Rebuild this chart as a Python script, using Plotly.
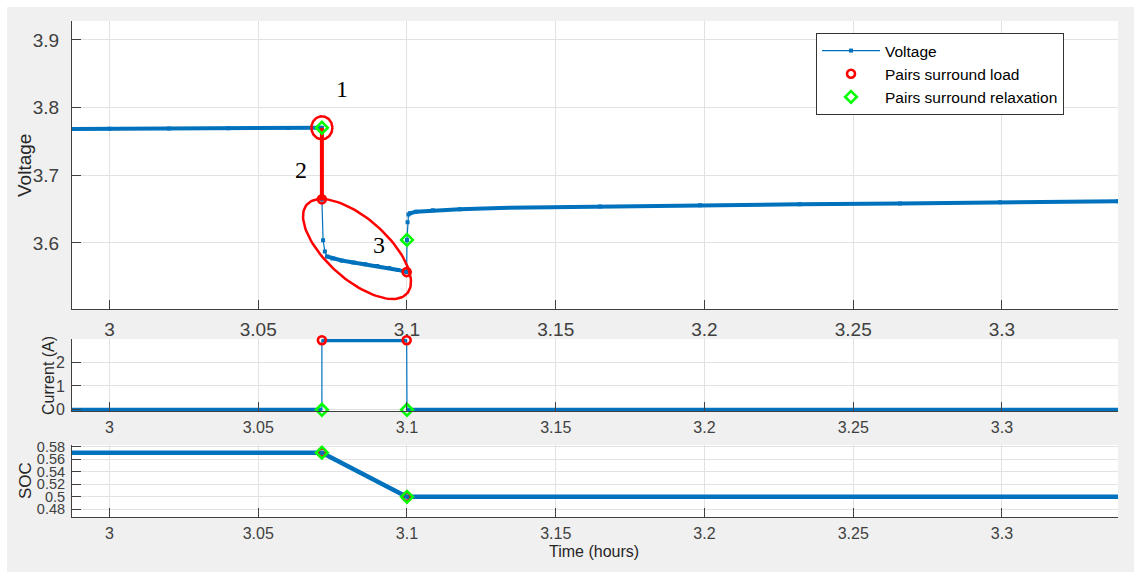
import math
import plotly.graph_objects as go

BLUE = "#0072BD"
RED = "#FF0000"
GREEN = "#00FF00"
AXIS = "#404040"
GRID = "#e2e2e2"
TXT = "#262626"
FONT = "Liberation Sans, Arial, sans-serif"
SERIF = "Liberation Serif, Times New Roman, serif"

# ---------------- data ----------------
# rest period before the current pulse
rest_t = [2.985, 3.000, 3.020, 3.040, 3.060, 3.0714]
rest_v = [3.7685, 3.7688, 3.7693, 3.7697, 3.7700, 3.7702]
# sparse samples across the load step
step_t = [3.0714, 3.0718, 3.0724]
step_v = [3.6645, 3.6040, 3.5875]
# under load
load_t = [3.0731, 3.0750, 3.0780, 3.0820, 3.0860, 3.0900, 3.0940, 3.0970, 3.0999]
load_v = [3.5800, 3.5772, 3.5742, 3.5712, 3.5686, 3.5660, 3.5630, 3.5602, 3.5570]
# relaxation after the pulse
relax_t = [3.1000, 3.1002, 3.1005, 3.1010, 3.1030, 3.1087, 3.1178, 3.1313,
           3.1649, 3.1985, 3.2320, 3.2657, 3.2993, 3.3390]
relax_v = [3.6045, 3.6305, 3.6419, 3.6440, 3.6462, 3.6482, 3.6500, 3.6518,
           3.6540, 3.6558, 3.6572, 3.6585, 3.6600, 3.6615]

# current (A)
cur_t = [2.985, 3.0714, 3.0714, 3.0999, 3.1000, 3.339]
cur_a = [0.0, 0.0, 2.92, 2.92, 0.0, 0.0]

# state of charge
soc_t = [2.985, 3.0714, 3.0999, 3.339]
soc_v = [0.5705, 0.5705, 0.5000, 0.5000]

time_ticks = [3.0, 3.05, 3.1, 3.15, 3.2, 3.25, 3.3]
time_text = ["3", "3.05", "3.1", "3.15", "3.2", "3.25", "3.3"]
v_ticks = [3.6, 3.7, 3.8, 3.9]
v_text = ["3.6", "3.7", "3.8", "3.9"]
i_ticks = [0, 1, 2]
i_text = ["0", "1", "2"]
soc_ticks = [0.48, 0.50, 0.52, 0.54, 0.56, 0.58]
soc_text = ["0.48", "0.5", "0.52", "0.54", "0.56", "0.58"]

# pairs of samples around the load and the relaxation
load_pair_t = [step_t[0], load_t[-1]]
load_pair_v = [step_v[0], load_v[-1]]
relax_pair_t = [rest_t[-1], relax_t[0]]
relax_pair_v = [rest_v[-1], relax_v[0]]
load_pair_i = [cur_a[2], cur_a[3]]
relax_pair_i = [cur_a[1], cur_a[4]]
load_pair_soc = [soc_v[1], soc_v[2]]
relax_pair_soc = [soc_v[1], soc_v[2]]

# ---------------- layout geometry ----------------
W, H = 1134, 572
ML, MR, MT, MB = 72, 16, 21, 55
PW, PH = W - ML - MR, H - MT - MB
T_RANGE = [2.9874, 3.339]
V_RANGE = [3.502, 3.928]
I_RANGE = [-0.05, 2.97]
S_RANGE = [0.4678, 0.5827]


def px_x(p):
    return (p - ML) / PW


def px_y(p):
    return (H - MB - p) / PH


TOP_PX = (21, 309.3)
MID_PX = (339, 411)
BOT_PX = (445, 517)
dom_top = [px_y(TOP_PX[1]), px_y(TOP_PX[0])]
dom_mid = [px_y(MID_PX[1]), px_y(MID_PX[0])]
dom_bot = [px_y(BOT_PX[1]), px_y(BOT_PX[0])]

# data units per pixel in the voltage panel
t_per_px = (T_RANGE[1] - T_RANGE[0]) / PW
v_per_px = (V_RANGE[1] - V_RANGE[0]) / (TOP_PX[1] - TOP_PX[0])


def ellipse(ct, cv, a_px, b_px, angle_deg, n=120):
    th = math.radians(angle_deg)
    xs, ys = [], []
    for k in range(n + 1):
        ph = 2 * math.pi * k / n
        dx = a_px * math.cos(ph) * math.cos(th) - b_px * math.sin(ph) * math.sin(th)
        dy = a_px * math.cos(ph) * math.sin(th) + b_px * math.sin(ph) * math.cos(th)
        xs.append(ct + dx * t_per_px)
        ys.append(cv - dy * v_per_px)
    return xs, ys


fig = go.Figure()

# ---------------- voltage panel ----------------
volt_t = rest_t + step_t + load_t + relax_t
volt_v = rest_v + step_v + load_v + relax_v
fig.add_trace(go.Scatter(x=volt_t, y=volt_v, mode="lines+markers", name="Voltage",
                         line=dict(color=BLUE, width=1.2),
                         marker=dict(symbol="square", size=4, color=BLUE),
                         xaxis="x", yaxis="y"))
for seg_t, seg_v in [(rest_t, rest_v), (load_t, load_v), (relax_t[2:], relax_v[2:])]:
    fig.add_trace(go.Scatter(x=seg_t, y=seg_v, mode="lines", showlegend=False,
                             line=dict(color=BLUE, width=4), hoverinfo="skip",
                             xaxis="x", yaxis="y"))

# highlight of the load step
fig.add_trace(go.Scatter(x=[relax_pair_t[0], load_pair_t[0]],
                         y=[relax_pair_v[0], load_pair_v[0]], mode="lines",
                         line=dict(color=RED, width=4), showlegend=False,
                         hoverinfo="skip", xaxis="x", yaxis="y"))
ex, ey = ellipse(relax_pair_t[0], relax_pair_v[0], 10.5, 11.5, 0)
fig.add_trace(go.Scatter(x=ex, y=ey, mode="lines", line=dict(color=RED, width=2.5),
                         showlegend=False, hoverinfo="skip", xaxis="x", yaxis="y"))
ex, ey = ellipse(3.0832, 3.5911, 67, 30.4, 41.65)
fig.add_trace(go.Scatter(x=ex, y=ey, mode="lines", line=dict(color=RED, width=2.5),
                         showlegend=False, hoverinfo="skip", xaxis="x", yaxis="y"))

red_marker = dict(symbol="circle-open", size=8, color=RED, line=dict(width=2.6, color=RED))
green_marker = dict(symbol="diamond-open", size=9, color=GREEN, line=dict(width=2.6, color=GREEN))

fig.add_trace(go.Scatter(x=load_pair_t, y=load_pair_v, mode="markers",
                         name="Pairs surround load", marker=red_marker,
                         cliponaxis=False, xaxis="x", yaxis="y"))
fig.add_trace(go.Scatter(x=relax_pair_t, y=relax_pair_v, mode="markers",
                         name="Pairs surround relaxation", marker=green_marker,
                         cliponaxis=False, xaxis="x", yaxis="y"))

# ---------------- current panel ----------------
fig.add_trace(go.Scatter(x=cur_t, y=cur_a, mode="lines", line=dict(color=BLUE, width=1.2),
                         showlegend=False, xaxis="x2", yaxis="y2"))
for i0, i1 in [(0, 2), (2, 4), (4, 6)]:
    fig.add_trace(go.Scatter(x=cur_t[i0:i1], y=cur_a[i0:i1], mode="lines",
                             line=dict(color=BLUE, width=4), showlegend=False,
                             hoverinfo="skip", xaxis="x2", yaxis="y2"))
fig.add_trace(go.Scatter(x=load_pair_t, y=load_pair_i, mode="markers", marker=red_marker,
                         showlegend=False, cliponaxis=False, xaxis="x2", yaxis="y2"))
fig.add_trace(go.Scatter(x=relax_pair_t, y=relax_pair_i, mode="markers", marker=green_marker,
                         showlegend=False, cliponaxis=False, xaxis="x2", yaxis="y2"))

# ---------------- SOC panel ----------------
fig.add_trace(go.Scatter(x=soc_t, y=soc_v, mode="lines", line=dict(color=BLUE, width=4.5),
                         showlegend=False, xaxis="x3", yaxis="y3"))
fig.add_trace(go.Scatter(x=load_pair_t, y=load_pair_soc, mode="markers", marker=red_marker,
                         showlegend=False, cliponaxis=False, xaxis="x3", yaxis="y3"))
fig.add_trace(go.Scatter(x=relax_pair_t, y=relax_pair_soc, mode="markers", marker=green_marker,
                         showlegend=False, cliponaxis=False, xaxis="x3", yaxis="y3"))


def xaxis(anchor, size, standoff):
    return dict(domain=[0, 1], range=T_RANGE, anchor=anchor, tickvals=time_ticks,
                ticktext=time_text, ticks="inside", ticklen=9, tickcolor=AXIS,
                showline=True, linecolor=AXIS, linewidth=1, showgrid=True,
                gridcolor=GRID, zeroline=False, ticklabelstandoff=standoff,
                tickfont=dict(family=FONT, size=size, color=AXIS))


def yaxis(anchor, dom, rng, tv, tt, size, standoff):
    return dict(domain=dom, range=rng, anchor=anchor, tickvals=tv, ticktext=tt,
                ticks="inside", ticklen=9, tickcolor=AXIS, showline=True,
                linecolor=AXIS, linewidth=1, showgrid=True, gridcolor=GRID,
                zeroline=False, ticklabelstandoff=standoff,
                tickfont=dict(family=FONT, size=size, color=AXIS))


def paper_text(text, xp, yp, size, angle=0, family=FONT, color=TXT):
    return dict(text=text, x=px_x(xp), y=px_y(yp), xref="paper", yref="paper",
                xanchor="center", yanchor="middle", showarrow=False, textangle=angle,
                font=dict(family=family, size=size, color=color))


annotations = [
    paper_text("Voltage", 24, 166, 19, -90),
    paper_text("Current (A)", 48, 376, 16, -90),
    paper_text("SOC", 25, 481, 17, -90),
    paper_text("Time (hours)", 594, 551, 16),
    paper_text("1", 342, 89, 24, family=SERIF, color="#000000"),
    paper_text("2", 301, 170, 24, family=SERIF, color="#000000"),
    paper_text("3", 379, 245, 24, family=SERIF, color="#000000"),
]

shapes = [
    # white frame strips along the top and left edges
    dict(type="rect", xref="paper", yref="paper", x0=px_x(0), x1=px_x(W),
         y0=px_y(7), y1=px_y(0), fillcolor="white", line=dict(width=0), layer="below"),
    dict(type="rect", xref="paper", yref="paper", x0=px_x(0), x1=px_x(7),
         y0=px_y(H), y1=px_y(0), fillcolor="white", line=dict(width=0), layer="below"),
]

fig.update_layout(
    width=W, height=H,
    margin=dict(l=ML, r=MR, t=MT, b=MB, autoexpand=False),
    paper_bgcolor="#f0f0f0", plot_bgcolor="white",
    font=dict(family=FONT, color=TXT),
    xaxis=xaxis("y", 19, 3),
    yaxis=yaxis("x", dom_top, V_RANGE, v_ticks, v_text, 19, 8),
    xaxis2=xaxis("y2", 16, 2),
    yaxis2=yaxis("x2", dom_mid, I_RANGE, i_ticks, i_text, 16, 3),
    xaxis3=xaxis("y3", 16, 2),
    yaxis3=yaxis("x3", dom_bot, S_RANGE, soc_ticks, soc_text, 14.5, 3),
    legend=dict(x=px_x(816), y=px_y(33), xanchor="left", yanchor="top",
                bgcolor="white", bordercolor="#333333", borderwidth=1,
                font=dict(family=FONT, size=15.5, color="#000000"),
                itemwidth=58, tracegroupgap=0),
    annotations=annotations,
    shapes=shapes,
    showlegend=True,
)

fig.write_html("out.html")
